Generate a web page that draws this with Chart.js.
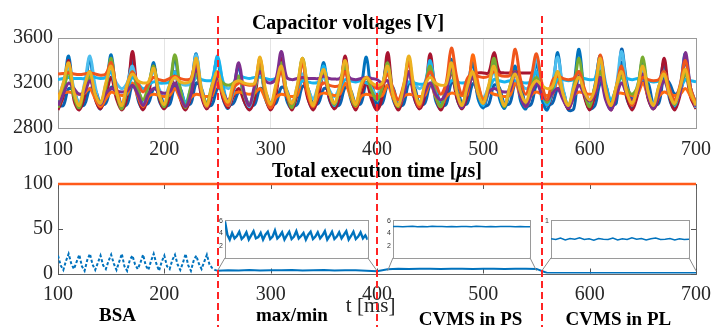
<!DOCTYPE html>
<html>
<head>
<meta charset="utf-8">
<script src="https://cdn.jsdelivr.net/npm/chart.js@4/dist/chart.umd.min.js"></script>
<style>
html, body { margin: 0; padding: 0; background: #fff; }
#wrap { position: relative; width: 713px; height: 327px; overflow: hidden; }
#wrap canvas { position: absolute; }
</style>
</head>
<body>
<div id="wrap">
  <canvas id="capChart" width="713" height="160" style="left:0;top:0"></canvas>
  <canvas id="timeChart" width="713" height="167" style="left:0;top:160px"></canvas>
  <canvas id="inset1" width="156" height="50" style="left:215px;top:214px"></canvas>
  <canvas id="inset2" width="150" height="50" style="left:383px;top:214px"></canvas>
  <canvas id="inset3" width="152" height="50" style="left:541px;top:214px"></canvas>
</div>
<script>
// ---- data: capacitor voltages [V], sampled every 5 ms ----
const timeMs = [100,105,110,115,120,125,130,135,140,145,150,155,160,165,170,175,180,185,190,195,
  200,205,210,215,220,225,230,235,240,245,250,255,260,265,270,275,280,285,290,295,
  300,305,310,315,320,325,330,335,340,345,350,355,360,365,370,375,380,385,390,395,
  400,405,410,415,420,425,430,435,440,445,450,455,460,465,470,475,480,485,490,495,
  500,505,510,515,520,525,530,535,540,545,550,555,560,565,570,575,580,585,590,595,
  600,605,610,615,620,625,630,635,640,645,650,655,660,665,670,675,680,685,690,695,700];

const vBlue = [2990, 3150,
  3440,3080,2975,3140, 3420,3070,2970,3150, 3450,3090,2980,3160, 3400,3060,2970,3130, 3380,3050,2975,3140,
  3430,3080,2970,3150, 3460,3100,2980,3170, 3420,3070,2975,3150, 3350,3040,2970,3120, 3390,3060,2980,3140,
  3370,3050,2975,3130, 3410,3070,2970,3150, 3380,3060,2980,3140, 3400,3070,2975,3150, 3430,3080,2970,3160,
  3390,3060,2975,3140, 3420,3070,2980,3150, 3360,3050,2970,3130, 3410,3070,2975,3150, 3380,3060,2980,3140,
  3400,3070,2975,3150, 3350,3040,2970,3130, 3380,3060,2960,3140, 3470,3100,2975,3170, 3500,3110,2970,3180,
  3440,3080,2975,3160, 3380,3060,2980,3140, 3400,3070,2975,3150, 3380,3060,2970,3140, 3460,3090,2975];
const vOrange = [3280, 3285,
  3290,3280,3275,3280, 3290,3280,3270,3280, 3380,3150,3000,3180, 3300,3200,3120,3200, 3250,3230,3220,3240,
  3260,3240,3230,3240, 3400,3120,2990,3160, 3300,3100,3000,3150, 3200,3190,3180,3190, 3420,3120,2980,3150,
  3300,3100,3020,3150, 3380,3100,2990,3150, 3200,3180,3170,3180, 3300,3120,3020,3160, 3250,3200,3150,3180,
  3280,3150,3050,3180, 3380,3120,2990,3180, 3300,3200,3100,3200, 3510,3250,3100,3240, 3280,3260,3250,3260,
  3300,3270,3260,3270, 3500,3230,3100,3250, 3460,3200,3050,3220, 3260,3240,3230,3240, 3300,3150,3050,3150,
  3450,3150,3000,3160, 3350,3120,3000,3150, 3250,3230,3220,3230, 3300,3150,3050,3180, 3400,3150,3020];
const vYellow = [3050, 3200,
  3380,3120,3000,3180, 3300,3100,3020,3200, 3350,3120,3000,3190, 3280,3220,3200,3210, 3330,3100,3010,3180,
  3250,3210,3200,3220, 3420,3140,3000,3180, 3300,3120,3030,3190, 3220,3200,3190,3200, 3430,3150,3010,3190,
  3350,3130,3020,3180, 3420,3150,3000,3190, 3320,3120,3020,3170, 3400,3150,3010,3190, 3250,3200,3180,3200,
  3350,3100,3000,3170, 3440,3150,3010,3180, 3250,3200,3180,3190, 3380,3120,3000,3170, 3300,3110,3020,3180,
  3350,3130,3000,3170, 3280,3120,3030,3160, 3220,3180,3150,3170, 3300,3100,3000,3150, 3250,3120,3050,3160,
  3420,3130,3000,3170, 3300,3110,3020,3160, 3350,3120,3000,3170, 3280,3100,3020,3160, 3320,3120,3000];
const vPurple = [3000, 3100,
  3200,3150,3100,3120, 3220,3100,3010,3110, 3150,3130,3120,3130, 3180,3100,3000,3100, 3150,3120,3110,3120,
  3200,3080,2990,3100, 3350,3100,2990,3120, 3250,3120,3050,3150, 3380,3120,3000,3180, 3300,3220,3200,3240,
  3480,3250,3230,3240, 3250,3240,3240,3240, 3260,3240,3235,3240, 3300,3240,3230,3240, 3250,3240,3230,3200,
  3220,3100,3000,3100, 3300,3100,2990,3120, 3200,3100,3050,3120, 3350,3120,2980,3130, 3250,3100,3020,3120,
  3150,3130,3120,3130, 3300,3080,2990,3100, 3200,3100,3050,3110, 3150,3050,2980,3080, 3180,3100,3040,3100,
  3250,3050,2960,3080, 3200,3100,3050,3110, 3280,3080,2970,3100, 3220,3100,3030,3110, 3470,3150,2990];
const vGreen = [2980, 3120,
  3300,3080,2980,3150, 3250,3100,3030,3160, 3420,3120,2970,3160, 3300,3150,3050,3180, 3350,3100,2990,3170,
  3450,3150,2980,3170, 3280,3120,3020,3180, 3250,3200,3180,3200, 3260,3100,3010,3150, 3350,3100,2990,3170,
  3380,3120,2980,3160, 3420,3150,2990,3180, 3300,3120,3010,3160, 3350,3100,3000,3160, 3250,3130,3050,3160,
  3380,3110,2990,3150, 3300,3120,3020,3160, 3350,3100,2990,3170, 3300,3120,3010,3160, 3250,3100,3020,3150,
  3420,3130,2990,3170, 3300,3110,3000,3160, 3250,3120,3030,3150, 3300,3100,3000,3150, 3420,3120,2990,3170,
  3300,3100,3010,3160, 3250,3150,3100,3170, 3430,3120,2990,3160, 3300,3110,3010,3160, 3280,3120,3020];
const vCyan = [3050, 3200,
  3350,3150,3020,3200, 3440,3170,3000,3190, 3300,3200,3150,3200, 3350,3120,3000,3180, 3300,3150,3080,3180,
  3250,3200,3180,3200, 3450,3150,2990,3200, 3420,3220,3150,3200, 3250,3100,2990,3150, 3300,3120,3000,3160,
  3350,3130,3000,3170, 3280,3150,3060,3180, 3250,3140,3080,3170, 3300,3120,3000,3170, 3250,3150,3100,3180,
  3300,3120,3000,3160, 3280,3200,3150,3200, 3300,3100,2990,3150, 3350,3130,3000,3170, 3280,3140,3070,3170,
  3300,3120,3000,3160, 3280,3200,3150,3190, 3420,3180,3050,3200, 3430,3150,2990,3180, 3300,3120,3020,3170,
  3350,3130,3000,3170, 3480,3160,3000,3180, 3300,3120,3010,3170, 3280,3130,3050,3170, 3440,3150,2980];
const vDarkRed = [2960, 3080,
  3400,3050,2960,3080, 3300,3060,2970,3090, 3250,3060,2960,3080, 3480,3100,2960,3090, 3350,3070,2970,3080,
  3300,3060,2960,3080, 3330,3080,2970,3090, 3250,3070,2980,3080, 3150,3040,2960,3070, 3380,3080,2960,3090,
  3420,3100,2960,3100, 3250,3060,2960,3080, 3300,3070,2970,3090, 3440,3100,2960,3100, 3200,3050,2960,3080,
  3470,3100,2960,3100, 3300,3070,2970,3090, 3460,3100,2960,3100, 3300,3070,2970,3090, 3280,3290,3290,3290,
  3470,3300,3290,3290, 3300,3290,3290,3290, 3290,3150,3000,3100, 3250,3070,2970,3090, 3300,3080,2960,3090,
  3350,3080,2960,3100, 3300,3070,2960,3090, 3280,3060,2970,3080, 3420,3090,2960,3090, 3300,3070,2970];
const vBlue2 = [3000, 3000,
  3150,3130,3000,3010, 3150,3140,3010,3020, 3160,3140,3000,3010, 3180,3150,3010,3020, 3150,3140,3000,3010,
  3170,3150,3010,3020, 3200,3150,3000,3010, 3150,3140,3010,3020, 3120,3100,3000,3010, 3150,3120,3010,3020,
  3160,3140,3000,3010, 3170,3150,3010,3020, 3150,3130,3000,3010, 3160,3140,3010,3020, 3200,3180,3010,3020,
  3180,3160,3000,3010, 3200,3170,3010,3020, 3180,3160,3000,3010, 3200,3180,3010,3020, 3190,3170,3000,3010,
  3180,3160,3010,3020, 3200,3180,3000,3010, 3180,3160,3010,3020, 3150,3130,2960,2970, 3300,3100,2970,3000,
  3200,3180,3010,3020, 3500,3200,3050,3150, 3220,3200,3010,3020, 3250,3200,3100,3150, 3400,3150,3020];
const vOrange2 = [3100, 3110,
  3120,3110,3100,3110, 3150,3060,2990,3060, 3120,3100,3090,3100, 3200,3080,2990,3080, 3100,3090,3080,3090,
  3150,3060,2990,3070, 3100,3090,3080,3090, 3220,3100,3000,3100, 3120,3110,3100,3110, 3150,3060,2980,3070,
  3100,3090,3080,3090, 3250,3100,2990,3090, 3110,3100,3090,3100, 3200,3080,2990,3080, 3100,3090,3080,3090,
  3180,3070,2990,3080, 3100,3090,3080,3090, 3200,3080,2990,3080, 3110,3100,3090,3100, 3450,3200,3050,3120,
  3100,3090,3080,3090, 3200,3080,2990,3090, 3120,3100,3090,3100, 3220,3090,2990,3090, 3120,3110,3100,3110,
  3250,3100,3000,3100, 3110,3100,3090,3100, 3200,3080,2990,3080, 3120,3100,3090,3100, 3150,3080,3000];
const vCyan2 = [3230, 3240,
  3250,3240,3240,3240, 3260,3250,3240,3250, 3300,3120,3000,3130, 3250,3200,3150,3180, 3210,3200,3200,3210,
  3300,3150,3030,3150, 3250,3230,3220,3230, 3440,3200,3000,3130, 3260,3250,3240,3250, 3250,3240,3230,3240,
  3300,3120,3000,3140, 3220,3210,3200,3210, 3350,3130,3000,3150, 3230,3220,3210,3220, 3200,3190,3180,3190,
  3300,3120,3000,3140, 3210,3200,3190,3200, 3400,3150,3000,3150, 3220,3210,3200,3210, 3250,3100,3000,3130,
  3230,3220,3210,3220, 3220,3210,3200,3210, 3300,3120,3000,3120, 3240,3230,3220,3230, 3250,3240,3230,3240,
  3440,3200,3050,3150, 3250,3240,3230,3240, 3230,3220,3210,3220, 3300,3130,3000,3130, 3230,3220,3210];

// ---- data: total execution time [us] ----
const bsaMs = [100,102.5,105,107.5,110,112.5,115,117.5,120,122.5,125,127.5,130,132.5,135,137.5,
  140,142.5,145,147.5,150,152.5,155,157.5,160,162.5,165,167.5,170,172.5,175,177.5,
  180,182.5,185,187.5,190,192.5,195,197.5,200,202.5,205,207.5,210,212.5,215,217.5,
  220,222.5,225,227.5,230,232.5,235,237.5,240,242.5,245,247.5,250];
const bsaUs = [20,9,4,14, 22,11,5,13, 21,8,3,15, 22,10,4,12, 20,9,5,14, 21,11,4,13, 22,8,3,15, 20,10,5,12,
  21,9,4,14, 22,11,3,13, 20,8,5,15, 21,10,4,12, 22,9,3,14, 20,11,5,13, 21,10,6,4, 3];
const ctrlMs = [250,260,270,280,290,300,310,320,330,340,350,360,370,380,390,400,
  410,420,430,440,450,460,470,480,490,500,510,520,530,540,550,
  560,570,580,590,600,610,620,630,640,650,660,670,680,690,700];
const ctrlUs = [3.0,3.6,3.4,3.8,3.3,3.7,3.5,3.9,3.4,3.6,3.8,3.3,3.7,3.5,3.2,2.5,
  4.8,5.2,5.1,5.2,5.2,5.1,5.2,5.2,5.1,5.2,5.2,5.1,5.2,5.2,5.1,
  0.5,0.6,0.5,0.5,0.6,0.5,0.5,0.6,0.5,0.5,0.6,0.5,0.5,0.6,0.5];
const limitUs = 100;

// zoomed views
const maxMinMs = [250,252.5,255,257.5,260,262.5,265,267.5,270,272.5,275,277.5,280,282.5,285,287.5,
  290,292.5,295,297.5,300,302.5,305,307.5,310,312.5,315,317.5,320,322.5,325,327.5,
  330,332.5,335,337.5,340,342.5,345,347.5,350,352.5,355,357.5,360,362.5,365,367.5,
  370,372.5,375,377.5,380,382.5,385,387.5,390,392.5,395,397.5,400];
const maxMinUs = [6.0,3.8,3.0,4.1,3.2,3.6,4.3,3.1,3.5,4.2,
  3.0,3.7,4.4,3.2,3.4,4.1,3.0,3.8,4.3,3.1,
  3.5,4.5,3.2,3.6,4.2,3.0,3.7,4.3,3.1,3.5,
  4.4,3.2,3.6,4.1,3.0,3.8,4.3,3.1,3.5,4.2,
  3.2,3.7,4.4,3.0,3.6,4.3,3.1,3.5,4.2,3.2,
  3.8,4.4,3.0,3.6,4.3,3.1,3.5,4.2,3.2,3.7, 3.0];
const psMs = [410,415,420,425,430,435,440,445,450,455,460,465,470,475,480,485,490,495,500,505,
  510,515,520,525,530,535,540,545,550];
const psUs = [5.15,5.18,5.12,5.16,5.2,5.14,5.17,5.13,5.19,5.15,5.16,5.12,5.18,5.14,5.17,5.15,5.13,5.19,5.16,5.14,
  5.18,5.12,5.17,5.15,5.16,5.13,5.18,5.14,5.1];
const plMs = [555,560,565,570,575,580,585,590,595,600,605,610,615,620,625,630,635,640,645,650,
  655,660,665,670,675,680,685,690,695,700];
const plUs = [0.52,0.5,0.54,0.49,0.53,0.51,0.55,0.5,0.52,0.48,0.53,0.51,0.5,0.54,0.49,0.52,0.5,0.55,0.51,0.53,
  0.49,0.52,0.54,0.5,0.51,0.53,0.49,0.52,0.5,0.51];

const dividerMs = [250, 400, 555];
const regionNames = ['BSA', 'max/min', 'CVMS in PS', 'CVMS in PL'];

// ---- styling ----
const serif = "'Liberation Serif', 'Times New Roman', serif";
Chart.defaults.font.family = serif;
const capSeries = [vYellow, vOrange, vPurple, vGreen, vCyan2, vOrange2, vCyan, vDarkRed, vBlue2, vBlue];
const capColors = ['#EDB120', '#F0561C', '#7E2F8E', '#77AC30', '#18B4EE', '#FF6A10', '#4DBEEE', '#A8142F', '#0A62B0', '#0072BD'];
const lineBlue = '#0072BD';
const xy = (xs, ys) => ys.map((v, i) => ({ x: xs[i], y: v }));
const plain = v => String(v);
// keep the plot edges fixed, labels may hang over
const fixX = h => s => { s.height = h; s.paddingLeft = 0; s.paddingRight = 0; };

const frame = color => ({
  id: 'frame',
  beforeDatasetsDraw(c) {
    const a = c.chartArea, ctx = c.ctx;
    ctx.save();
    ctx.strokeStyle = color;
    ctx.lineWidth = 1;
    ctx.strokeRect(Math.round(a.left) + 0.5, Math.round(a.top) + 0.5, Math.round(a.right - a.left), Math.round(a.bottom - a.top));
    ctx.restore();
  }
});

const dividers = y0 => ({
  id: 'dividers',
  afterDraw(c) {
    const ctx = c.ctx;
    ctx.save();
    ctx.strokeStyle = '#FF2424';
    ctx.lineWidth = 2;
    ctx.setLineDash([7, 4]);
    dividerMs.forEach(v => {
      const px = Math.round(c.scales.x.getPixelForValue(v));
      ctx.beginPath();
      ctx.moveTo(px, y0);
      ctx.lineTo(px, c.height);
      ctx.stroke();
    });
    ctx.restore();
  }
});

// ---- top: capacitor voltages ----
new Chart(document.getElementById('capChart'), {
  type: 'line',
  data: {
    datasets: capSeries.map((vals, i) => ({
      data: xy(timeMs, vals),
      borderColor: capColors[i],
      borderWidth: 3,
      pointRadius: 0,
      tension: 0.35
    }))
  },
  options: {
    responsive: false,
    animation: false,
    events: [],
    layout: { padding: { left: 0, right: 17, top: 0, bottom: 0 } },
    plugins: {
      legend: { display: false },
      tooltip: { enabled: false },
      title: {
        display: true,
        text: 'Capacitor voltages [V]',
        color: '#000',
        font: { size: 20, weight: 'bold' },
        padding: { top: 12, bottom: 2 }
      }
    },
    scales: {
      x: {
        type: 'linear', min: 100, max: 700,
        ticks: { stepSize: 100, color: '#262626', font: { size: 20 }, padding: 10, callback: plain },
        grid: { color: '#e4e4e4', drawTicks: false },
        border: { display: false },
        afterFit: fixX(32)
      },
      y: {
        min: 2800, max: 3600,
        ticks: { stepSize: 400, color: '#262626', font: { size: 20 }, padding: 5, callback: plain },
        grid: { display: false, drawTicks: false },
        border: { display: false },
        afterFit(s) { s.width = 58; }
      }
    }
  },
  plugins: [frame('#9a9a9a'), dividers(16)]
});

// ---- bottom: execution time ----
let insetCharts = [];
const zoomWindows = [[250, 400], [410, 550], [555, 700]];

const innerTicks = {
  id: 'innerTicks',
  beforeDatasetsDraw(c) {
    const a = c.chartArea, ctx = c.ctx, xs = c.scales.x, ys = c.scales.y;
    ctx.save();
    ctx.strokeStyle = '#555';
    ctx.lineWidth = 1;
    ctx.beginPath();
    xs.ticks.forEach(t => {
      const px = Math.round(xs.getPixelForValue(t.value)) + 0.5;
      ctx.moveTo(px, a.bottom); ctx.lineTo(px, a.bottom - 5);
      ctx.moveTo(px, a.top); ctx.lineTo(px, a.top + 5);
    });
    ys.ticks.forEach(t => {
      const py = Math.round(ys.getPixelForValue(t.value)) + 0.5;
      ctx.moveTo(a.left, py); ctx.lineTo(a.left + 5, py);
      ctx.moveTo(a.right, py); ctx.lineTo(a.right - 5, py);
    });
    ctx.stroke();
    ctx.restore();
  }
};

const connectors = {
  id: 'connectors',
  afterDatasetsDraw(c) {
    if (!insetCharts.length) return;
    const ctx = c.ctx, xs = c.scales.x, ys = c.scales.y;
    const base = c.canvas;
    ctx.save();
    ctx.strokeStyle = '#8a8a8a';
    ctx.lineWidth = 1;
    insetCharts.forEach((ic, i) => {
      const a = ic.chartArea;
      const ox = ic.canvas.offsetLeft - base.offsetLeft;
      const oy = ic.canvas.offsetTop - base.offsetTop;
      const yEnd = ys.getPixelForValue(3);
      ctx.beginPath();
      ctx.moveTo(ox + a.left, oy + a.bottom);
      ctx.lineTo(xs.getPixelForValue(zoomWindows[i][0]), yEnd);
      ctx.moveTo(ox + a.right, oy + a.bottom);
      ctx.lineTo(xs.getPixelForValue(zoomWindows[i][1]), yEnd);
      ctx.stroke();
    });
    ctx.restore();
  }
};

const regionNameAt = [156, 320, 488, 627];
const textBits = {
  id: 'textBits',
  afterDraw(c) {
    const ctx = c.ctx, a = c.chartArea, xs = c.scales.x;
    ctx.save();
    ctx.fillStyle = '#000';
    ctx.textBaseline = 'middle';
    // title with italic mu
    const parts = [['Total execution time [', 'bold'], ['\u03bc', 'italic bold'], ['s]', 'bold']];
    let total = 0;
    parts.forEach(p => { ctx.font = p[1] + ' 20px ' + serif; total += ctx.measureText(p[0]).width; });
    let x = (a.left + a.right) / 2 - total / 2;
    ctx.textAlign = 'left';
    parts.forEach(p => { ctx.font = p[1] + ' 20px ' + serif; ctx.fillText(p[0], x, 12); x += ctx.measureText(p[0]).width; });
    // region names
    ctx.textAlign = 'center';
    ctx.font = 'bold 19px ' + serif;
    regionNames.forEach((n, i) => {
      ctx.fillText(n, xs.getPixelForValue(regionNameAt[i]), i < 2 ? 156 : 160);
    });
    // axis title
    ctx.fillStyle = '#262626';
    ctx.font = '21px ' + serif;
    ctx.fillText('t [ms]', xs.getPixelForValue(394), 146);
    ctx.restore();
  }
};

const timeChart = new Chart(document.getElementById('timeChart'), {
  type: 'line',
  data: {
    datasets: [
      { data: xy(bsaMs, bsaUs), borderColor: lineBlue, borderWidth: 2, borderDash: [3, 2], pointRadius: 0, tension: 0 },
      { data: xy(ctrlMs, ctrlUs), borderColor: lineBlue, borderWidth: 2, pointRadius: 0, tension: 0 },
      { data: [{ x: 100, y: limitUs }, { x: 700, y: limitUs }], borderColor: '#FF5A1A', borderWidth: 2.5, pointRadius: 0, clip: false }
    ]
  },
  options: {
    responsive: false,
    animation: false,
    events: [],
    layout: { padding: { left: 0, right: 17, top: 24, bottom: 0 } },
    plugins: { legend: { display: false }, tooltip: { enabled: false } },
    scales: {
      x: {
        type: 'linear', min: 100, max: 700,
        ticks: { stepSize: 100, color: '#262626', font: { size: 20 }, padding: 9, callback: plain },
        grid: { display: false, drawTicks: false },
        border: { display: false },
        afterFit: fixX(53.5)
      },
      y: {
        min: 0, max: 100,
        ticks: { stepSize: 50, color: '#262626', font: { size: 20 }, padding: 5, callback: plain },
        grid: { display: false, drawTicks: false },
        border: { display: false },
        afterFit(s) { s.width = 58; }
      }
    }
  },
  plugins: [frame('#666'), innerTicks, connectors, textBits, dividers(0)]
});

// ---- insets ----
function makeInset(id, xs, ys, win, yMax, tickVals, pad, width) {
  return new Chart(document.getElementById(id), {
    type: 'line',
    data: { datasets: [{ data: xy(xs, ys), borderColor: lineBlue, borderWidth: width, pointRadius: 0, tension: 0 }] },
    options: {
      responsive: false,
      animation: false,
      events: [],
      layout: { padding: pad },
      plugins: { legend: { display: false }, tooltip: { enabled: false } },
      scales: {
        x: { type: 'linear', min: win[0], max: win[1], display: false },
        y: {
          min: 0, max: yMax,
          afterBuildTicks(s) { s.ticks = tickVals.map(v => ({ value: v })); },
          afterFit(s) { s.width = 10; },
          ticks: { color: '#333', font: { size: 7, family: "'Liberation Sans', sans-serif" }, padding: 2 },
          grid: { display: false, drawTicks: false },
          border: { display: false }
        }
      }
    },
    plugins: [frame('#9a9a9a')]
  });
}

insetCharts = [
  makeInset('inset1', maxMinMs, maxMinUs, zoomWindows[0], 6.2, [2, 4, 6], { left: 0, top: 5.5, right: 3.3, bottom: 4 }, 2.4),
  makeInset('inset2', psMs, psUs, zoomWindows[1], 6.2, [2, 4, 6], { left: 0, top: 6, right: 3, bottom: 4.7 }, 1.5),
  makeInset('inset3', plMs, plUs, zoomWindows[2], 1.03, [1], { left: 0, top: 6, right: 4, bottom: 5 }, 1.5)
];
timeChart.draw();
</script>
</body>
</html>
